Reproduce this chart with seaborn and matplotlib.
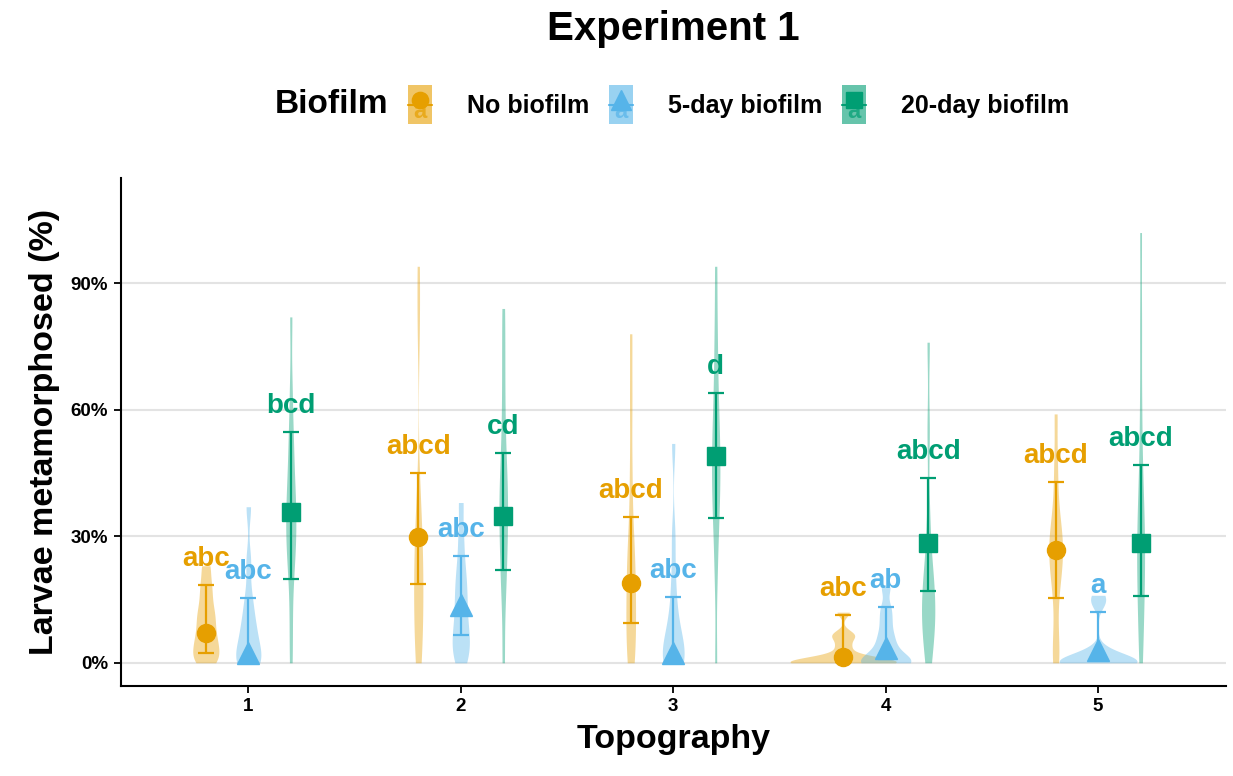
import numpy as np
import pandas as pd
import matplotlib
matplotlib.use("Agg")
import matplotlib.pyplot as plt
from matplotlib.legend_handler import HandlerBase
from matplotlib.lines import Line2D
from matplotlib.patches import Rectangle
from matplotlib.text import Text
import seaborn as sns

topography = [1, 2, 3, 4, 5]
biofilm = ["No biofilm", "5-day biofilm", "20-day biofilm"]

# raw observations (% metamorphosed) per topography, one list per biofilm treatment
obs_none = [
    [0, 1, 2, 4, 5, 7, 9, 11, 13, 16, 19, 23],
    [0, 3, 8, 12, 16, 20, 24, 28, 32, 40, 80, 94],
    [0, 2, 6, 10, 14, 18, 22, 26, 32, 45, 62, 78],
    [0, 0, 0, 0, 0, 0, 0, 1, 1, 2, 4, 6, 7, 12],
    [0, 2, 8, 16, 20, 23, 25, 27, 29, 31, 34, 40, 48, 59],
]
obs_5day = [
    [0, 0, 0, 1, 3, 5, 7, 9, 12, 16, 24, 37],
    [0, 2, 4, 6, 8, 11, 14, 17, 20, 24, 30, 38],
    [0, 0, 0, 1, 2, 4, 6, 9, 13, 20, 30, 52],
    [0, 0, 0, 0, 0, 2, 3, 5, 7, 10, 13, 18],
    [0, 0, 0, 0, 0, 0, 0, 1, 2, 3, 14, 16],
]
obs_20day = [
    [0, 10, 20, 25, 28, 31, 34, 37, 40, 44, 50, 55, 65, 82],
    [0, 15, 22, 27, 32, 36, 40, 44, 50, 60, 72, 84],
    [0, 20, 30, 36, 40, 44, 48, 52, 56, 62, 70, 80, 94],
    [0, 5, 8, 10, 12, 15, 18, 20, 25, 35, 55, 76],
    [0, 8, 14, 20, 24, 28, 32, 38, 45, 60, 80, 102],
]

# model estimates with 95% CI
mean_none = [7.1, 29.9, 19.0, 1.4, 26.8]
lo_none = [2.4, 18.7, 9.5, 0.2, 15.4]
hi_none = [18.5, 45.0, 34.6, 11.4, 42.9]
mean_5day = [2.4, 13.7, 2.4, 3.6, 3.1]
lo_5day = [0.5, 6.6, 0.3, 1.0, 0.7]
hi_5day = [15.4, 25.4, 15.6, 13.3, 12.1]
mean_20day = [35.8, 34.8, 49.0, 28.4, 28.4]
lo_20day = [19.9, 22.0, 34.4, 17.0, 15.9]
hi_20day = [54.7, 49.8, 64.0, 43.8, 46.9]

letters_none = ["abc", "abcd", "abcd", "abc", "abcd"]
letters_5day = ["abc", "abc", "abc", "ab", "a"]
letters_20day = ["bcd", "cd", "d", "abcd", "abcd"]

colors = ["#E69F00", "#56B4E9", "#009E73"]
markers = ["o", "^", "s"]
msizes = [13, 16, 13]
offsets = [-0.2, 0.0, 0.2]

obs_all = [obs_none, obs_5day, obs_20day]
means = [mean_none, mean_5day, mean_20day]
los = [lo_none, lo_5day, lo_20day]
his = [hi_none, hi_5day, hi_20day]
letters = [letters_none, letters_5day, letters_20day]

rows = []
for b, name in enumerate(biofilm):
    for t, vals in zip(topography, obs_all[b]):
        for v in vals:
            rows.append({"pos": round(t + offsets[b], 2), "value": v, "biofilm": name})
df = pd.DataFrame(rows)

sns.set_theme(style="white")
plt.rcParams["font.family"] = ["Liberation Sans", "DejaVu Sans"]
plt.rcParams["text.color"] = "black"
plt.rcParams["axes.labelcolor"] = "black"

fig = plt.figure(figsize=(12.33, 7.76), dpi=100)
ax = fig.add_axes([0.098, 0.116, 0.896, 0.655])

ax.set_axisbelow(True)
ax.yaxis.grid(True, color="#E3E3E3", linewidth=1.5)

sns.violinplot(data=df, x="pos", y="value", hue="biofilm", hue_order=biofilm,
               palette=colors, native_scale=True, dodge=False, orient="x",
               density_norm="area", common_norm=True, cut=0, inner=None,
               bw_adjust=0.5, gridsize=300,
               width=2.5, linewidth=0, saturation=1, alpha=0.4, legend=False,
               ax=ax)

for b in range(3):
    pos = np.array(topography) + offsets[b]
    m = np.array(means[b])
    ax.errorbar(pos, m, yerr=[m - np.array(los[b]), np.array(his[b]) - m],
                fmt=markers[b], color=colors[b], ms=msizes[b], elinewidth=1.6,
                capsize=6, capthick=1.6, zorder=4)
    for x, h, lab in zip(pos, his[b], letters[b]):
        ax.text(x, h + 4.5, lab, ha="center", va="baseline", color=colors[b],
                fontsize=20, fontweight="bold", zorder=3)

ax.set_xlim(0.4, 5.6)
ax.set_ylim(-5.5, 115)
ax.set_xticks(topography)
ax.set_xticklabels([str(t) for t in topography])
ax.set_yticks([0, 30, 60, 90])
ax.set_yticklabels(["0%", "30%", "60%", "90%"])
ax.tick_params(axis="both", labelsize=13.5, length=5, width=1.3, color="black",
               bottom=True, left=True, pad=4)
for lab in ax.get_xticklabels() + ax.get_yticklabels():
    lab.set_fontweight("bold")
    lab.set_color("black")
for s in ["top", "right"]:
    ax.spines[s].set_visible(False)
for s in ["left", "bottom"]:
    ax.spines[s].set_color("black")
    ax.spines[s].set_linewidth(1.5)

ax.set_xlabel("Topography", fontsize=24.5, fontweight="bold", labelpad=6)
ax.set_ylabel("Larvae metamorphosed (%)", fontsize=24.5, fontweight="bold", labelpad=8)

fig.text(0.546, 0.962, "Experiment 1", ha="center", va="center",
         fontsize=29, fontweight="bold")


class BiofilmKey:
    def __init__(self, color, marker, ms):
        self.color = color
        self.marker = marker
        self.ms = ms


class KeyHandler(HandlerBase):
    def create_artists(self, legend, orig_handle, xdescent, ydescent,
                       width, height, fontsize, trans):
        cx = -xdescent + width / 2
        cy = -ydescent + height / 2
        line = Line2D([-xdescent, -xdescent + width], [cy, cy],
                      color=orig_handle.color, lw=1.5)
        mark = Line2D([cx], [cy + height * 0.12], marker=orig_handle.marker,
                      ms=orig_handle.ms * 0.9, color=orig_handle.color, lw=0)
        rect = Rectangle((-xdescent, -ydescent), width, height,
                         facecolor=orig_handle.color, alpha=0.6, edgecolor="none")
        txt = Text(cx, -ydescent + 1, "a", color=orig_handle.color, alpha=0.7,
                   ha="center", va="bottom", fontsize=fontsize * 0.95,
                   fontweight="bold")
        for a in (line, mark, rect, txt):
            a.set_transform(trans)
        return [line, mark, rect, txt]


handles = [BiofilmKey(c, mk, ms) for c, mk, ms in zip(colors, markers, msizes)]
fig.text(275 / 1233, 0.865, "Biofilm", ha="left", va="center",
         fontsize=24, fontweight="bold")
fig.legend(handles, biofilm, loc="center left", bbox_to_anchor=(408 / 1233, 0.865),
           ncol=3, frameon=False, prop={"weight": "bold", "size": 18},
           handlelength=0.95, handleheight=2.0, handletextpad=1.4,
           columnspacing=0.8, borderpad=0, borderaxespad=0,
           handler_map={BiofilmKey: KeyHandler()})

fig.savefig("out.png", dpi=100)
